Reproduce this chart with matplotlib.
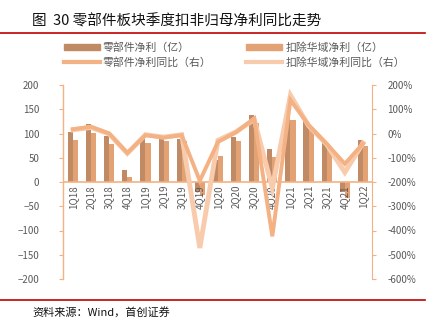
import matplotlib
matplotlib.use("Agg")
import matplotlib.pyplot as plt
from matplotlib.lines import Line2D
import numpy as np

plt.rcParams['font.family'] = ['Noto Sans CJK SC', 'DejaVu Sans']

quarters = ["1Q18", "2Q18", "3Q18", "4Q18", "1Q19", "2Q19", "3Q19", "4Q19",
            "1Q20", "2Q20", "3Q20", "4Q20", "1Q21", "2Q21", "3Q21", "4Q21", "1Q22"]
parts_profit = [103, 120, 94, 24, 92, 97, 88, -21, 45, 92, 139, 68, 140, 125, 85, -20, 87]
ex_huayu_profit = [86, 102, 79, 10, 81, 84, 85, -27, 54, 84, 121, 52, 128, 113, 73, -33, 74]
parts_yoy = [18, 28, 0, -80, -7, -17, -7, -195, -35, 5, 62, -424, 138, 35, -42, -125, -42]
ex_huayu_yoy = [15, 25, -2, -82, -5, -15, -5, -472, -28, 7, 58, -225, 158, 32, -45, -160, -40]

left_ticks = [-200, -150, -100, -50, 0, 50, 100, 150, 200]
right_ticks = [-600, -500, -400, -300, -200, -100, 0, 100, 200]

c_dark = "#C08A65"
c_light = "#E2A274"
c_line1 = "#F4B183"
c_line2 = "#F8CBAD"
c_axis = "#F4B183"
c_text = "#595959"

W, H = 438, 332
fig = plt.figure(figsize=(W / 100, H / 100), dpi=100)

ax = fig.add_axes([63 / W, (H - 279) / H, (372 - 63) / W, (279 - 85) / H])
x = np.arange(len(quarters))
bw = 0.28
ax.bar(x - bw / 2, parts_profit, bw, color=c_dark, zorder=2)
ax.bar(x + bw / 2, ex_huayu_profit, bw, color=c_light, zorder=2)
ax.set_ylim(-200, 200)
ax.set_yticks(left_ticks)
ax.set_xlim(-0.55, len(quarters) - 0.5)
ax.set_xticks([])

for s in ["top", "right", "bottom"]:
    ax.spines[s].set_visible(False)
ax.spines["left"].set_color(c_axis)
ax.spines["left"].set_linewidth(1.0)
ax.tick_params(axis="y", colors=c_axis, labelcolor=c_text, labelsize=7, length=3, direction="out", pad=14)
ax.axhline(0, color=c_axis, lw=1.2, zorder=3)
for i, q in enumerate(quarters):
    ax.text(i, -6, q, rotation=90, ha="center", va="top", fontsize=7, color=c_text, zorder=4)

ax2 = ax.twinx()
ax2.plot(x, ex_huayu_yoy, color=c_line2, lw=3.5, solid_joinstyle="miter", zorder=3)
ax2.plot(x, parts_yoy, color=c_line1, lw=2.8, solid_joinstyle="miter", zorder=4)
ax2.set_ylim(-600, 200)
ax2.set_yticks(right_ticks)
ax2.set_yticklabels([f"{t}%" for t in right_ticks])
for s in ["top", "left", "bottom"]:
    ax2.spines[s].set_visible(False)
ax2.spines["right"].set_color(c_axis)
ax2.tick_params(axis="y", colors=c_axis, labelcolor=c_text, labelsize=7, length=3, direction="out", pad=8)
ax2.set_xlim(-0.55, len(quarters) - 0.5)

handles = [
    plt.Rectangle((0, 0), 1, 1, color=c_dark),
    Line2D([0], [0], color=c_line1, lw=3),
    plt.Rectangle((0, 0), 1, 1, color=c_light),
    Line2D([0], [0], color=c_line2, lw=3),
]
labels = ["零部件净利（亿）", "零部件净利同比（右）", "扣除华域净利（亿）", "扣除华域净利同比（右）"]
fig.legend(handles, labels, ncol=2, loc="center", bbox_to_anchor=(0.535, (H - 55) / H),
           frameon=False, fontsize=7.8, labelcolor=c_text, handlelength=3.3, handleheight=0.45,
           columnspacing=3.2, labelspacing=0.35, handletextpad=0.3)

fig.text(32 / W, (H - 21) / H, "图  30 零部件板块季度扣非归母净利同比走势", fontsize=10.5, ha="left", va="center", color="#111111")
fig.add_artist(Line2D([0, 425 / W], [(H - 33) / H] * 2, color="#C00000", lw=1.2))
fig.add_artist(Line2D([0, 425 / W], [(H - 300) / H] * 2, color="#C00000", lw=1.2))
fig.text(32 / W, (H - 312) / H, "资料来源：Wind，首创证券", fontsize=8, ha="left", va="center", style="italic", color="#111111")

fig.savefig("out.png", dpi=100)
